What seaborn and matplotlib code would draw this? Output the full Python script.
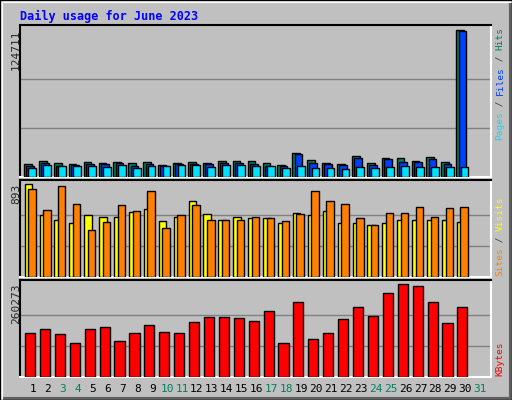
import matplotlib
matplotlib.use("Agg")
import matplotlib.pyplot as plt
import seaborn as sns
import numpy as np
import pandas as pd

days = list(range(1, 31))
hits = [10720,13260,11570,10720,12420,11570,12420,11570,12420,9880,11570,12420,11570,13260,13260,13260,11570,9880,20030,14110,11570,10720,17780,11570,15800,15800,13260,16650,12420,124711]
files = [9030,11570,9030,10160,11010,10720,11570,9030,11290,9590,11010,11290,11010,11850,11850,11010,9590,9030,19190,12130,10720,10160,15800,9880,14960,12980,12420,14960,11290,123870]
pages = [7340,9880,9030,9030,9030,8180,9880,7340,9030,9030,9880,9880,8180,9880,9880,9030,9030,7340,9030,7340,7340,6490,8180,7340,8180,9030,8180,8180,8180,8180]
sites = [893,591,552,514,591,572,581,620,649,533,581,726,601,552,572,562,562,514,610,591,630,514,514,495,514,552,543,552,543,524]
visits = [842,639,870,697,456,524,687,630,822,466,591,687,552,552,543,581,562,533,601,822,726,697,562,495,610,610,668,572,658,668]
kbytes = [123500,134900,120650,95000,134900,140600,100700,123500,146300,126350,123500,154850,169100,169100,166250,157700,186200,95000,211850,106400,123500,163400,197600,171950,234650,260273,254600,211850,152000,197600]
day_labels = [str(d) for d in range(1, 32)]
weekends = [3,4,10,11,17,18,24,25,31]

sns.set_style("white")
plt.rcParams['font.family'] = ['DejaVu Sans Mono', 'DejaVu Sans']
BG = "#C0C0C0"
W, H = 512, 400
fig = plt.figure(figsize=(5.12, 4.0), dpi=100, facecolor=BG)

def px_axes(x0, y0, x1, y1):
    return fig.add_axes([x0/W, 1-y1/H, (x1-x0)/W, (y1-y0)/H])

border = fig.add_axes([0, 0, 1, 1], facecolor="none")
border.set_xlim(0, W); border.set_ylim(H, 0); border.axis("off")
border.plot([1, W-1, W-1], [H-1, H-1, 1], color="#606060", lw=3)
border.plot([1, 1, W-1], [H-1, 1, 1], color="white", lw=3)
border.plot([0, W, W, 0, 0], [0, 0, H, H, 0], color="black", lw=1)

XL = (0.2, 31.8)
def style(ax, top, grid):
    ax.set_facecolor(BG)
    ax.set_xlim(*XL)
    ax.set_ylim(0, top)
    for g in grid:
        ax.axhline(g, color="#808080", lw=1, zorder=0)
    ax.set_xticks([]); ax.set_yticks([])
    ax.set_xlabel(""); ax.set_ylabel("")
    if ax.get_legend():
        ax.get_legend().remove()
    for s in ["top", "left"]:
        ax.spines[s].set_color("black")
    for s in ["bottom", "right"]:
        ax.spines[s].set_color("white")
    for s in ax.spines.values():
        s.set_linewidth(1.5)

def bars(ax, vals, off, width, color):
    df = pd.DataFrame({"x": np.array(days) + off, "y": vals})
    sns.barplot(data=df, x="x", y="y", native_scale=True, width=width,
                color=color, edgecolor="black", linewidth=1, saturation=1, ax=ax, zorder=3)

ax1 = px_axes(20, 25, 491, 177)
m1 = max(hits)
bars(ax1, hits, -0.27, 0.52, "#00805C")
bars(ax1, files, -0.12, 0.52, "#0040FF")
bars(ax1, pages, 0.03, 0.52, "#00E0FF")
style(ax1, m1*151.5/147, [m1/3, 2*m1/3])

ax2 = px_axes(20, 180, 491, 277)
m2 = max(sites)
bars(ax2, sites, -0.24, 0.5, "#FFFF00")
bars(ax2, visits, 0.0, 0.5, "#FF8000")
style(ax2, m2*96.7/92.7, [m2/3, 2*m2/3])

ax3 = px_axes(20, 280, 491, 377)
m3 = max(kbytes)
bars(ax3, kbytes, -0.12, 0.68, "#FF0000")
style(ax3, m3*95.7/91.4, [m3/3, 2*m3/3])

tx = border
tx.text(20, 16, "Daily usage for June 2023", color="#0000FF", fontsize=8.5,
        fontweight="bold", va="center", ha="left")
tx.text(16, 29, str(max(hits)), rotation=90, fontsize=8, ha="center", va="top")
tx.text(16, 184, str(max(sites)), rotation=90, fontsize=8, ha="center", va="top")
tx.text(16, 284, str(max(kbytes)), rotation=90, fontsize=8, ha="center", va="top")

CH = 5.6
def vlabel(x, ybottom, parts):
    y = ybottom
    for s, c in parts:
        tx.text(x, y, s, rotation=90, color=c, fontsize=6.8, ha="center", va="bottom",
                rotation_mode="anchor" if False else "default")
        y -= len(s) * CH
vlabel(500, 140, [("Pages", "#00E0FF"), (" / ", "#404040"), ("Files", "#0040FF"), (" / ", "#404040"), ("Hits", "#00805C")])
vlabel(500, 276, [("Sites", "#FF8000"), (" / ", "#404040"), ("Visits", "#FFFF00")])
vlabel(500, 376, [("KBytes", "#FF0000")])

for i, lab in enumerate(day_labels):
    d = i + 1
    x = 33 + (d - 1) * 14.9
    tx.text(x, 389, lab, fontsize=8, ha="center", va="center",
            color="#008060" if d in weekends else "black")

fig.savefig("out.png", dpi=100, facecolor=BG)
